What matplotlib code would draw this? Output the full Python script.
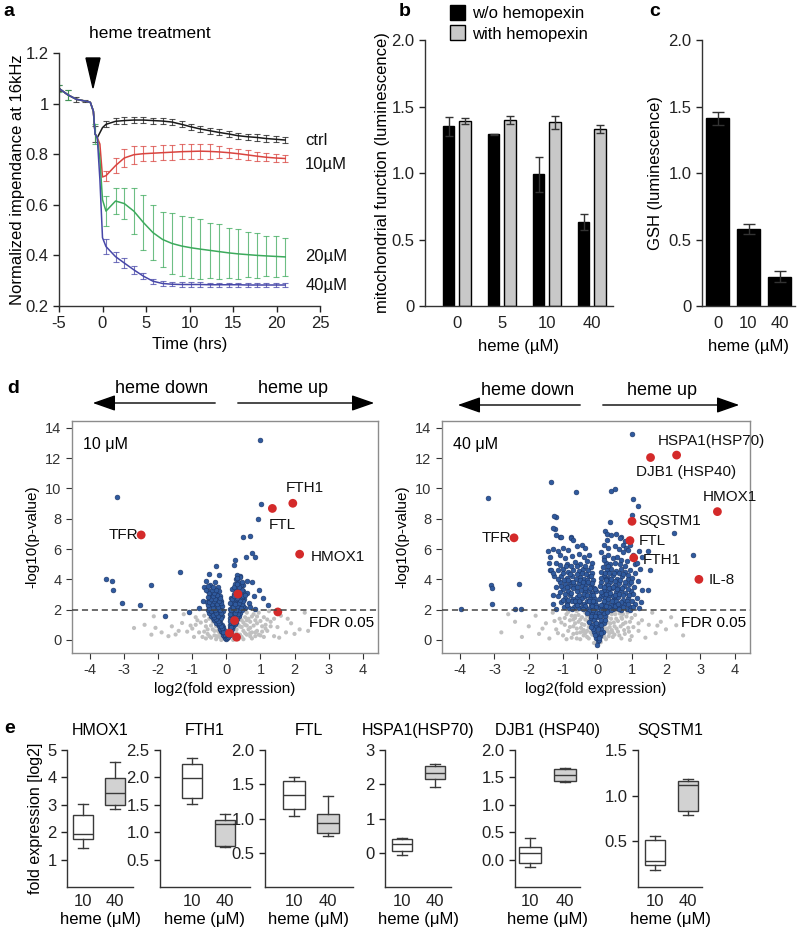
import numpy as np
import matplotlib
matplotlib.use("Agg")
import matplotlib.pyplot as plt
from matplotlib.patches import Patch, Polygon, FancyArrowPatch

plt.rcParams['font.family'] = ['Liberation Sans', 'DejaVu Sans']
plt.rcParams['axes.unicode_minus'] = False

# ---------------- data ----------------
# panel a: impedance time course
a_hours = [-5.0, -4.0, -3.0, -2.0, -1.4, -1.05, -0.85, -0.6, -0.3, 0.0, 0.4, 1.5, 2.5, 3.6,
           4.7, 5.8, 6.9, 8.0, 9.1, 10.2, 11.2, 12.3, 13.4, 14.5, 15.6, 16.7, 17.8, 18.8, 19.9, 21.0]
a_ctrl = [1.06, 1.035, 1.017, 1.01, 1.005, 0.97, 0.88, 0.865, 0.885, 0.905, 0.918, 0.93, 0.933, 0.935,
          0.935, 0.933, 0.931, 0.927, 0.918, 0.908, 0.90, 0.893, 0.886, 0.88, 0.873, 0.869, 0.866, 0.862, 0.859, 0.856]
a_10 = [1.06, 1.035, 1.017, 1.01, 1.005, 0.97, 0.88, 0.865, 0.84, 0.71, 0.715, 0.755, 0.785, 0.798,
        0.802, 0.804, 0.806, 0.808, 0.81, 0.811, 0.812, 0.811, 0.809, 0.806, 0.802, 0.797, 0.792, 0.788, 0.785, 0.783]
a_20 = [1.06, 1.035, 1.017, 1.01, 1.005, 0.97, 0.88, 0.865, 0.78, 0.62, 0.575, 0.615, 0.605, 0.575,
        0.53, 0.49, 0.463, 0.447, 0.437, 0.43, 0.425, 0.42, 0.415, 0.41, 0.406, 0.403, 0.40, 0.398, 0.396, 0.394]
a_40 = [1.06, 1.035, 1.017, 1.01, 1.005, 0.97, 0.88, 0.865, 0.70, 0.47, 0.435, 0.395, 0.37, 0.343,
        0.318, 0.298, 0.289, 0.286, 0.285, 0.285, 0.285, 0.284, 0.284, 0.284, 0.284, 0.283, 0.283, 0.283, 0.283, 0.283]
a_ctrl_err = [0.012, 0.02, 0.01, 0.005, 0, 0, 0.03, 0, 0, 0, 0.012, 0.012, 0.013, 0.012,
              0.013, 0.012, 0.012, 0.012, 0.012, 0.012, 0.012, 0.012, 0.012, 0.012, 0.012, 0.012, 0.012, 0.012, 0.012, 0.012]
a_10_err = [0, 0, 0, 0, 0, 0, 0, 0, 0, 0, 0.02, 0.03, 0.035, 0.035,
            0.03, 0.03, 0.03, 0.03, 0.03, 0.03, 0.03, 0.03, 0.025, 0.02, 0.02, 0.02, 0.018, 0.015, 0.015, 0.015]
a_20_err = [0.015, 0.02, 0, 0, 0, 0, 0.04, 0, 0, 0, 0.06, 0.05, 0.06, 0.09,
            0.11, 0.11, 0.11, 0.12, 0.12, 0.12, 0.12, 0.11, 0.11, 0.1, 0.1, 0.09, 0.09, 0.08, 0.08, 0.075]
a_40_err = [0, 0, 0, 0, 0, 0, 0, 0, 0, 0, 0.03, 0.02, 0.02, 0.015,
            0.012, 0.01, 0.008, 0.008, 0.008, 0.008, 0.008, 0.008, 0.008, 0.008, 0.008, 0.008, 0.008, 0.008, 0.008, 0.008]
a_names = ["ctrl", "10\u00b5M", "20\u00b5M", "40\u00b5M"]
a_colors = ["#1a1a1a", "#d9443f", "#3daa5c", "#4747a8"]

# panel b: mitochondrial function
b_doses = ["0", "5", "10", "40"]
b_wo = [1.35, 1.29, 0.99, 0.63]
b_wo_err = [0.07, 0.005, 0.13, 0.06]
b_with = [1.39, 1.40, 1.38, 1.33]
b_with_err = [0.02, 0.03, 0.05, 0.03]

# panel c: GSH
c_doses = ["0", "10", "40"]
c_gsh = [1.41, 0.58, 0.22]
c_gsh_err = [0.05, 0.04, 0.04]

# panel d: volcano plots (log2 fold, -log10 p)
v10_blue = [
    (0.98, 13.2), (-3.22, 9.46), (1.01, 8.97), (0.92, 7.96), (0.50, 6.78), (0.70, 6.87), (0.75, 5.77),
    (0.58, 5.5), (0.85, 5.46), (0.26, 5.25), (0.21, 4.96), (-0.29, 4.9), (-1.35, 4.46), (-3.54, 4.04),
    (-3.35, 3.86), (-3.32, 3.27), (-2.22, 3.6), (-3.07, 2.44), (-2.54, 2.29), (-1.81, 1.6), (-1.1, 1.85),
    (-0.52, 4.37), (-0.22, 4.3), (-0.66, 3.47), (1.07, 2.77), (1.22, 2.33), (0.95, 3.3), (0.75, 3.8),
    (0.6, 3.1), (0.8, 2.88), (0.65, 2.44), (0.41, 4.19), (0.55, 2.1), (0.7, 2.2), (-0.7, 2.6), (-0.8, 2.1),
    (0.85, 2.05), (0.5, 3.6), (0.62, 3.9), (-0.6, 3.9),
    (-0.02, 0.05), (-0.05, 0.15), (-0.08, 0.25), (-0.1, 0.35), (-0.04, 0.4), (-0.12, 0.5), (-0.15, 0.6),
    (-0.07, 0.65), (-0.18, 0.75), (-0.1, 0.85), (-0.22, 0.9), (-0.14, 1.0), (-0.25, 1.05), (-0.3, 1.15),
    (-0.18, 1.2), (-0.35, 1.3), (-0.22, 1.35), (-0.4, 1.45), (-0.28, 1.5), (-0.12, 1.55), (-0.45, 1.6),
    (-0.33, 1.65), (-0.2, 1.7), (-0.5, 1.75), (-0.38, 1.8), (-0.25, 1.85), (-0.1, 1.9), (-0.55, 1.95),
    (-0.42, 2.0), (-0.3, 2.05), (-0.18, 2.1), (-0.5, 2.2), (-0.35, 2.25), (-0.22, 2.3), (-0.45, 2.4),
    (-0.3, 2.45), (-0.58, 2.5), (-0.15, 2.55), (-0.4, 2.6), (-0.25, 2.7), (-0.52, 2.75), (-0.35, 2.85),
    (-0.2, 2.9), (-0.45, 3.0), (-0.3, 3.1), (-0.55, 3.2), (-0.38, 3.35), (-0.25, 3.5), (-0.48, 3.65),
    (-0.32, 3.8),
    (-0.05, 0.3), (-0.09, 0.55), (-0.13, 0.8), (-0.17, 0.95), (-0.21, 1.1), (-0.26, 1.25), (-0.3, 1.4),
    (-0.36, 1.5), (-0.16, 1.42), (-0.24, 1.58), (-0.4, 1.68), (-0.29, 1.78), (-0.15, 1.8), (-0.46, 1.88),
    (-0.34, 1.95), (-0.2, 1.98), (-0.52, 2.08), (-0.38, 2.12), (-0.25, 2.18), (-0.12, 2.22), (-0.55, 2.32),
    (-0.42, 2.35), (-0.28, 2.38), (-0.16, 2.42), (-0.5, 2.52), (-0.35, 2.55), (-0.22, 2.6), (-0.45, 2.68),
    (-0.32, 2.72), (-0.18, 2.78), (-0.55, 2.85), (-0.4, 2.9), (-0.27, 2.95), (-0.5, 3.08), (-0.36, 3.12),
    (-0.22, 3.2), (-0.43, 3.28), (-0.3, 3.32), (-0.6, 3.3), (-0.4, 3.5), (-0.55, 3.55),
    (0.03, 0.1), (0.06, 0.2), (0.1, 0.3), (0.05, 0.4), (0.13, 0.5), (0.08, 0.6), (0.17, 0.7), (0.1, 0.8),
    (0.2, 0.9), (0.12, 1.0), (0.24, 1.05), (0.15, 1.15), (0.28, 1.2), (0.18, 1.3), (0.32, 1.4), (0.1, 1.45),
    (0.22, 1.5), (0.36, 1.6), (0.14, 1.65), (0.27, 1.7), (0.4, 1.8), (0.18, 1.85), (0.31, 1.9), (0.45, 2.0),
    (0.12, 2.05), (0.24, 2.1), (0.38, 2.15), (0.5, 2.25), (0.16, 2.3), (0.3, 2.35), (0.43, 2.45), (0.2, 2.55),
    (0.35, 2.6), (0.52, 2.7), (0.15, 2.8), (0.27, 2.85), (0.42, 2.95), (0.22, 3.05), (0.35, 3.15), (0.5, 3.25),
    (0.18, 3.35), (0.3, 3.45), (0.42, 3.6), (0.25, 3.7), (0.35, 3.85), (0.28, 4.0), (0.4, 4.15), (0.3, 4.3),
    (0.04, 0.3), (0.08, 0.45), (0.11, 0.65), (0.15, 0.85), (0.19, 1.1), (0.22, 1.25), (0.26, 1.35),
    (0.3, 1.55), (0.12, 1.25), (0.2, 1.4), (0.34, 1.7), (0.25, 1.8), (0.1, 1.7), (0.38, 1.95), (0.28, 2.0),
    (0.15, 2.0), (0.42, 2.1), (0.32, 2.25), (0.2, 2.2), (0.46, 2.35), (0.36, 2.45), (0.25, 2.4), (0.12, 2.45),
    (0.48, 2.55), (0.4, 2.65), (0.28, 2.7), (0.18, 2.68), (0.45, 2.82), (0.32, 2.8), (0.22, 2.92),
    (0.38, 3.05), (0.28, 3.2), (0.45, 3.3), (0.22, 3.5), (0.36, 3.5), (0.3, 3.7), (0.45, 3.8), (0.32, 4.1),
    (0.5, 2.9), (0.55, 3.0),
]
v10_grey = [
    (-2.71, 0.79), (-2.13, 1.56), (-2.08, 0.8), (-1.49, 0.36), (-1.3, 1.12), (-1.0, 0.75), (-0.8, 0.5),
    (-0.85, 1.3), (-0.7, 0.2), (-0.6, 0.9), (-0.55, 0.4), (-0.5, 1.4), (-0.45, 0.15), (-0.4, 0.7),
    (-0.35, 0.3), (-0.3, 0.05), (-0.65, 1.6), (-0.9, 1.0), (-1.15, 0.55), (-1.6, 0.9), (-1.9, 0.5),
    (-2.4, 1.0), (-0.25, 0.6), (0.45, 0.2), (0.5, 0.6), (0.55, 1.0), (0.6, 0.35), (0.65, 1.4), (0.7, 0.8),
    (0.75, 0.1), (0.8, 1.7), (0.85, 0.5), (0.9, 1.1), (1.0, 0.3), (1.05, 0.9), (1.1, 1.5), (1.2, 0.6),
    (1.3, 1.2), (1.4, 0.25), (1.5, 0.85), (1.6, 1.6), (1.75, 0.5), (1.9, 1.1), (2.0, 0.4), (2.15, 0.7),
    (0.35, 0.05), (0.4, 0.9), (0.3, 0.45), (0.95, 1.8), (0.6, 1.8), (-0.2, 0.2), (-0.15, 0.0), (0.2, 0.0),
    (1.25, 1.9), (-1.25, 1.7), (-0.95, 0.2), (1.55, 0.15), (2.3, 1.8), (0.7, 0.45), (0.45, 1.3),
    (-0.6, 0.1), (-0.75, 1.15), (1.15, 1.0), (0.85, 0.25),
    (-0.35, 0.6), (-0.3, 0.9), (-0.28, 0.25), (-0.45, 0.95), (-0.55, 0.7), (-0.5, 0.25), (-0.65, 0.55),
    (-0.4, 1.2), (-0.6, 1.25), (0.3, 0.7), (0.35, 1.0), (0.4, 0.35), (0.45, 0.85), (0.5, 1.15), (0.55, 0.45),
    (0.6, 0.95), (0.65, 0.7), (0.7, 1.2), (0.75, 0.5), (0.8, 0.95), (0.85, 1.3), (0.9, 0.6), (0.95, 0.35),
    (1.0, 1.25), (1.05, 0.55), (1.1, 0.2), (1.15, 0.75), (1.2, 1.35), (0.55, 1.5), (0.75, 1.55), (0.4, 1.55),
    (-0.2, 0.45), (0.25, 0.3), (0.35, 0.15), (0.5, 0.05), (0.6, 1.3), (0.7, 0.25), (0.9, 1.55), (1.3, 0.9),
    (1.4, 1.4), (-1.4, 0.6), (-1.7, 0.25), (-2.2, 0.35), (1.8, 1.4), (2.4, 0.6), (-0.9, 1.5), (-1.05, 0.95),
]
v10_red = [(-2.5, 6.93), (1.35, 8.68), (1.95, 9.02), (2.15, 5.66), (0.34, 3.03), (1.51, 1.85),
           (0.24, 1.28), (0.09, 0.45), (0.3, 0.18)]
v10_labels = ["TFR", "FTL", "FTH1", "HMOX1"]

v40_blue = [
    (1.01, 13.58), (-3.19, 9.37), (-1.34, 10.4), (-0.61, 9.74), (0.41, 9.81), (0.5, 9.96), (1.04, 9.3),
    (1.19, 8.86), (1.01, 8.27), (2.23, 7.04), (2.79, 5.64), (-1.2, 8.1), (-1.24, 7.33), (-3.11, 3.6),
    (-3.06, 3.45), (-2.28, 3.67), (-3.06, 2.39), (-3.99, 2.07), (-2.41, 2.07), (-2.22, 2.02), (1.53, 4.65),
    (1.48, 3.32), (1.28, 2.5), (-1.1, 6.8), (-0.76, 6.82), (-1.44, 5.9), (-1.39, 4.6), (0.75, 6.3),
    (0.7, 6.8), (0.83, 6.08), (1.09, 5.0), (1.3, 5.46), (1.48, 5.9),
    (-1.25, 8.2), (-1.28, 7.4), (-1.2, 6.9), (-1.05, 6.8), (-0.78, 6.75), (-0.72, 6.6), (-1.3, 6.0),
    (-1.15, 5.9), (-1.0, 6.05), (-0.85, 5.95), (-0.6, 6.2), (-0.45, 6.3), (-0.37, 6.1), (-1.38, 5.5),
    (-1.1, 5.6), (-0.95, 5.4), (-0.75, 5.55), (-0.55, 5.7), (-0.4, 5.45), (-0.25, 5.6), (-1.42, 5.05),
    (-1.2, 5.1), (-0.9, 5.0), (-0.65, 5.15), (-0.5, 5.0), (-0.3, 5.2), (-0.15, 5.1),
    (-1.35, 4.6), (-1.15, 4.6), (-1.0, 4.7), (-0.85, 4.5), (-0.7, 4.65), (-0.55, 4.55), (-0.42, 4.7),
    (-0.28, 4.6), (-0.15, 4.45), (-1.25, 4.2), (-1.05, 4.25), (-0.9, 4.1), (-0.75, 4.2), (-0.62, 4.0),
    (-0.5, 4.15), (-0.38, 4.05), (-0.25, 4.2), (-0.12, 3.95), (-1.1, 3.8), (-0.95, 3.7), (-0.8, 3.85),
    (-0.68, 3.6), (-0.55, 3.75), (-0.45, 3.55), (-0.32, 3.7), (-0.2, 3.6), (-0.1, 3.45), (-1.0, 3.35),
    (-0.85, 3.25), (-0.72, 3.4), (-0.6, 3.2), (-0.48, 3.3), (-0.36, 3.15), (-0.25, 3.3), (-0.15, 3.1),
    (-0.05, 3.2), (-1.15, 2.9), (-0.95, 2.8), (-0.8, 2.95), (-0.7, 2.7), (-0.58, 2.85), (-0.45, 2.75),
    (-0.35, 2.9), (-0.22, 2.7), (-0.1, 2.8), (-1.05, 2.5), (-0.88, 2.45), (-0.75, 2.55), (-0.62, 2.4),
    (-0.5, 2.5), (-0.4, 2.35), (-0.3, 2.55), (-0.18, 2.4), (-0.08, 2.5), (-0.98, 2.15), (-0.82, 2.1),
    (-0.68, 2.2), (-0.55, 2.1), (-0.45, 2.2), (-0.32, 2.1), (-0.2, 2.15), (-0.1, 2.05), (-1.2, 2.05),
    (-1.3, 2.4), (-0.52, 3.95), (-0.82, 3.55), (-0.3, 3.95), (-0.65, 2.6), (-0.4, 3.05), (-0.2, 2.95),
    (-1.3, 3.0), (-1.2, 3.5), (-1.1, 4.95), (-1.28, 4.4), (-0.92, 4.85), (-0.78, 4.9), (-0.6, 4.85),
    (-0.35, 4.85), (-0.2, 4.8), (-1.0, 4.45), (-0.8, 4.35), (-0.6, 4.35), (-0.45, 4.4), (-0.32, 4.35),
    (-0.18, 4.25), (-1.15, 4.05), (-0.98, 3.95), (-0.85, 3.95), (-0.7, 3.85), (-0.42, 3.85), (-0.28, 3.82),
    (-0.15, 3.75), (-1.05, 3.55), (-0.9, 3.5), (-0.6, 3.5), (-0.35, 3.45), (-0.22, 3.4), (-0.08, 3.35),
    (-1.1, 3.15), (-0.95, 3.05), (-0.78, 3.1), (-0.55, 3.0), (-0.3, 3.0), (-0.12, 2.95), (-1.0, 2.65),
    (-0.85, 2.65), (-0.55, 2.6), (-0.25, 2.6), (-0.12, 2.6), (-0.9, 2.3), (-0.6, 2.28), (-0.35, 2.25),
    (-0.15, 2.25), (-0.05, 2.3), (-0.75, 2.05), (-0.42, 2.02), (-0.05, 2.15),
    (0.36, 7.77), (0.22, 7.2), (0.27, 7.0), (0.4, 6.9), (0.55, 7.0), (0.65, 6.75), (0.8, 6.5), (0.95, 6.3),
    (0.2, 6.3), (0.32, 6.1), (0.5, 6.2), (0.62, 6.0), (0.75, 5.8), (0.9, 5.95), (1.05, 5.6), (1.2, 5.9),
    (0.18, 5.5), (0.3, 5.6), (0.45, 5.4), (0.58, 5.5), (0.7, 5.3), (0.85, 5.2), (1.0, 5.4), (1.15, 5.1),
    (0.25, 5.1), (0.38, 5.0), (0.52, 5.05), (0.15, 4.8), (0.28, 4.6), (0.4, 4.7), (0.55, 4.55),
    (0.68, 4.7), (0.82, 4.5), (0.95, 4.65), (1.1, 4.4), (1.25, 4.7), (0.2, 4.25), (0.32, 4.1), (0.45, 4.3),
    (0.58, 4.05), (0.72, 4.2), (0.88, 4.0), (1.02, 4.1), (1.18, 3.9), (0.12, 3.8), (0.25, 3.65),
    (0.38, 3.85), (0.5, 3.6), (0.63, 3.75), (0.78, 3.55), (0.92, 3.7), (1.08, 3.5), (0.18, 3.3), (0.3, 3.2),
    (0.42, 3.4), (0.55, 3.15), (0.68, 3.3), (0.82, 3.1), (0.98, 3.25), (1.3, 3.3), (0.1, 2.9), (0.22, 2.75),
    (0.35, 2.95), (0.48, 2.7), (0.6, 2.85), (0.74, 2.65), (0.88, 2.8), (1.0, 2.6), (1.15, 2.75), (0.15, 2.4),
    (0.28, 2.5), (0.4, 2.3), (0.52, 2.45), (0.65, 2.25), (0.8, 2.4), (0.95, 2.2), (1.1, 2.35), (0.08, 2.1),
    (0.2, 2.05), (0.32, 2.15), (0.45, 2.05), (0.58, 2.1), (0.7, 2.0), (0.85, 2.05), (1.2, 2.1),
    (0.3, 3.6), (0.45, 2.9), (0.25, 4.0), (0.6, 3.45), (0.15, 3.05), (0.35, 2.2),
    (0.1, 4.5), (0.22, 4.45), (0.35, 4.45), (0.48, 4.4), (0.62, 4.4), (0.76, 4.35), (0.9, 4.3), (0.1, 4.1),
    (0.26, 3.95), (0.4, 4.0), (0.52, 3.9), (0.66, 3.95), (0.82, 3.85), (0.98, 3.85), (0.08, 3.55), (0.2, 3.5),
    (0.35, 3.45), (0.46, 3.5), (0.58, 3.35), (0.72, 3.45), (0.88, 3.35), (1.05, 3.05), (0.1, 3.15),
    (0.25, 3.05), (0.38, 3.1), (0.5, 2.95), (0.62, 3.05), (0.75, 2.95), (0.92, 2.95), (0.05, 2.7),
    (0.18, 2.6), (0.3, 2.7), (0.42, 2.6), (0.55, 2.6), (0.68, 2.5), (0.85, 2.55), (0.1, 2.3), (0.25, 2.25),
    (0.5, 2.25), (0.6, 2.35), (0.75, 2.2), (0.9, 2.4), (1.05, 2.2), (0.15, 2.0), (0.4, 2.0), (0.62, 2.05),
    (0.95, 2.0), (0.18, 5.25), (0.3, 4.85), (0.65, 5.0), (0.8, 4.85), (0.12, 5.8), (0.28, 6.6),
    (-0.25, 1.9), (-0.15, 1.7), (-0.05, 1.85), (0.05, 1.75), (0.15, 1.9), (0.22, 1.6), (-0.2, 1.45),
    (-0.1, 1.3), (0.0, 1.5), (0.1, 1.35), (0.18, 1.15), (-0.15, 1.0), (-0.05, 0.85), (0.05, 1.05),
    (0.12, 0.7), (-0.1, 0.55), (0.0, 0.4), (0.08, 0.25), (-0.05, 0.1), (0.02, -0.1), (-0.02, -0.3),
    (0.06, 0.0), (-0.12, 0.75), (0.15, 0.5), (-0.3, 1.8), (-0.2, 1.55), (-0.08, 1.6), (0.08, 1.55),
    (0.2, 1.75), (0.28, 1.85), (-0.25, 1.2), (-0.05, 1.15), (0.12, 1.0), (0.22, 1.3), (-0.18, 0.85),
    (0.02, 0.7), (0.1, 0.45), (-0.08, 0.3), (0.05, 0.15), (-0.12, 1.95), (0.1, 1.95),
]
v40_grey = [
    (-2.8, 0.5), (-2.4, 1.2), (-2.2, 0.2), (-2.0, 0.9), (-1.8, 1.6), (-1.7, 0.4), (-1.5, 1.1), (-1.4, 0.1),
    (-1.3, 1.8), (-1.2, 0.7), (-1.1, 1.4), (-1.0, 0.3), (-0.95, 1.0), (-0.9, 1.7), (-0.85, 0.6), (-0.8, 1.3),
    (-0.75, 0.15), (-0.7, 0.9), (-0.65, 1.6), (-0.6, 0.45), (-0.55, 1.2), (-0.5, 0.05), (-0.48, 0.8),
    (-0.45, 1.5), (-0.4, 0.3), (-0.38, 1.0), (-0.35, 1.8), (-0.3, 0.6), (-0.28, 1.25), (-0.25, 0.1),
    (-0.2, 0.85), (-0.18, 1.55), (-0.15, 0.35), (-0.12, 1.1), (-0.1, -0.2), (0.1, -0.15), (0.12, 0.95),
    (0.15, 1.6), (0.18, 0.3), (0.2, 1.25), (0.25, 0.05), (0.28, 0.75), (0.3, 1.5), (0.35, 0.45), (0.38, 1.1),
    (0.4, 1.85), (0.45, 0.2), (0.5, 0.9), (0.55, 1.4), (0.6, 0.55), (0.65, 1.75), (0.7, 0.1), (0.75, 1.05),
    (0.8, 0.4), (0.85, 1.55), (0.9, 0.8), (0.95, 1.2), (1.0, 0.25), (1.1, 1.65), (1.2, 0.6), (1.3, 1.3),
    (1.4, 0.15), (1.5, 1.0), (1.6, 1.8), (1.7, 0.45), (1.85, 1.2), (2.0, 0.7), (2.15, 1.5), (2.3, 0.97),
    (2.5, 0.3), (-2.6, 1.7), (-0.6, 1.9), (0.55, 1.95), (-1.6, 0.75), (1.75, 0.95), (-0.7, 1.35),
    (-0.42, 0.55), (0.42, 0.65), (0.7, 1.5), (-0.9, 0.05), (0.95, 0.0), (-0.3, 1.6), (0.3, 1.95),
    (-0.95, 1.45), (-0.85, 1.85), (-0.8, 0.85), (-0.7, 0.4), (-0.65, 1.1), (-0.6, 0.75), (-0.55, 1.65),
    (-0.5, 0.5), (-0.45, 1.05), (-0.4, 0.65), (-0.35, 1.35), (-0.3, 0.2), (-0.25, 0.85), (-0.22, 1.45),
    (-0.2, 0.5), (-0.15, 1.2), (-0.12, 0.65), (0.12, 0.55), (0.15, 1.15), (0.18, 0.85), (0.22, 1.45),
    (0.25, 0.6), (0.3, 1.15), (0.33, 0.25), (0.36, 0.85), (0.4, 1.4), (0.44, 0.5), (0.48, 1.15), (0.52, 1.7),
    (0.56, 0.75), (0.6, 1.25), (0.64, 0.3), (0.68, 0.9), (0.72, 1.4), (0.78, 0.65), (0.82, 1.15), (0.88, 1.8),
    (0.92, 0.55), (1.0, 1.45), (1.05, 0.85), (-1.05, 1.15), (-1.15, 0.45), (-0.75, 1.6), (-0.5, 1.35),
    (-0.6, 0.1), (0.5, 0.35), (0.3, 0.6), (0.2, 0.2), (-0.35, 0.45), (-0.65, 1.45), (0.75, 1.7), (1.2, 1.1),
    (-1.25, 1.25), (0.42, 1.7),
]
v40_red = [(-2.43, 6.74), (1.55, 12.04), (2.31, 12.2), (3.5, 8.47), (1.01, 7.83), (0.95, 6.56),
           (1.06, 5.42), (2.96, 4.0)]
v40_labels = ["TFR", "DJB1 (HSP40)", "HSPA1(HSP70)", "HMOX1", "SQSTM1", "FTL", "FTH1", "IL-8"]

# panel e: box plots (10 uM and 40 uM)
e_genes = ["HMOX1", "FTH1", "FTL", "HSPA1(HSP70)", "DJB1 (HSP40)", "SQSTM1"]
e_lo_10 = [1.43, 1.51, 1.04, -0.08, -0.14, 0.19]
e_q1_10 = [1.76, 1.63, 1.14, 0.04, -0.06, 0.24]
e_med_10 = [1.94, 1.98, 1.35, 0.27, 0.12, 0.28]
e_q3_10 = [2.61, 2.24, 1.55, 0.39, 0.23, 0.52]
e_hi_10 = [3.04, 2.36, 1.61, 0.42, 0.39, 0.555]
e_lo_40 = [2.86, 0.73, 0.74, 1.93, 1.42, 0.79]
e_q1_40 = [2.98, 0.75, 0.79, 2.14, 1.44, 0.83]
e_med_40 = [3.43, 1.15, 0.94, 2.33, 1.55, 1.12]
e_q3_40 = [3.96, 1.23, 1.06, 2.53, 1.65, 1.16]
e_hi_40 = [4.57, 1.34, 1.33, 2.6, 1.68, 1.18]
e_yticks = [[1, 2, 3, 4, 5], [0.5, 1.0, 1.5, 2.0, 2.5], [0.5, 1.0, 1.5, 2.0], [0, 1, 2, 3],
            [0.0, 0.5, 1.0, 1.5, 2.0], [0.5, 1.0, 1.5]]
e_yfmt = ["{:.0f}", "{:.1f}", "{:.1f}", "{:.0f}", "{:.1f}", "{:.1f}"]
e_ylim = [(0, 5), (0, 2.5), (0, 2.0), (-1, 3), (-0.5, 2.0), (0, 1.5)]
e_doses = ["10", "40"]

# ---------------- layout helpers ----------------
W, H = 798, 930
fig = plt.figure(figsize=(W / 100, H / 100), dpi=100)


def fx(x):
    return x / W


def fy(y):
    return 1 - y / H


def add_ax(left, top, right, bottom):
    return fig.add_axes([left / W, 1 - bottom / H, (right - left) / W, (bottom - top) / H])


def open_style(ax, size=12):
    ax.spines['top'].set_visible(False)
    ax.spines['right'].set_visible(False)
    for s in ('left', 'bottom'):
        ax.spines[s].set_linewidth(1.0)
        ax.spines[s].set_color('#333333')
    ax.tick_params(direction='out', length=4, width=1.0, labelsize=size, colors='#222222')


# ---------------- panel a ----------------
ax = add_ax(59, 53, 320, 306)
open_style(ax)
hours = np.array(a_hours)
for vals, errs, col in zip([a_ctrl, a_10, a_20, a_40], [a_ctrl_err, a_10_err, a_20_err, a_40_err], a_colors):
    vals = np.array(vals)
    errs = np.array(errs)
    m = errs > 0
    ax.errorbar(hours[m], vals[m], yerr=errs[m], fmt='none', ecolor=col, elinewidth=0.8,
                capsize=2, capthick=0.8, alpha=0.75)
    ax.plot(hours, vals, color=col, lw=1.1)
for name, vals, col in zip(a_names, [a_ctrl, a_10, a_20, a_40], a_colors):
    ax.text(23.3, vals[-1] - (0.025 if name.startswith("10") else 0), name, fontsize=12,
            va='center', ha='left', color='#111111')
ax.set_xlim(-5, 25)
ax.set_ylim(0.2, 1.2)
ax.set_xticks([-5, 0, 5, 10, 15, 20, 25])
ax.set_yticks([0.2, 0.4, 0.6, 0.8, 1.0, 1.2])
ax.set_yticklabels(["0.2", "0.4", "0.6", "0.8", "1", "1.2"])
ax.set_xlabel("Time (hrs)", fontsize=12, labelpad=4)
ax.set_ylabel("Normalized impendance at 16kHz", fontsize=12, labelpad=0)
fig.text(fx(150), fy(33), "heme treatment", fontsize=12.5, ha='center', va='center')
fig.add_artist(Polygon([(fx(86), fy(58)), (fx(100), fy(58)), (fx(93), fy(88))], closed=True,
                       transform=fig.transFigure, color='black'))

# ---------------- panel b ----------------
ax = add_ax(425, 40, 613, 306)
open_style(ax)
xb = np.arange(len(b_doses))
ax.bar(xb - 0.18, b_wo, width=0.25, color='black', edgecolor='black', lw=1,
       yerr=b_wo_err, error_kw=dict(ecolor='#333333', elinewidth=1, capsize=3, capthick=1))
ax.bar(xb + 0.18, b_with, width=0.25, color='#c8c8c8', edgecolor='black', lw=1,
       yerr=b_with_err, error_kw=dict(ecolor='#333333', elinewidth=1, capsize=3, capthick=1))
ax.set_xlim(-0.71, 3.47)
ax.set_ylim(0, 2.0)
ax.set_xticks(xb)
ax.set_xticklabels(b_doses)
ax.tick_params(axis='x', length=0, pad=7)
ax.set_yticks([0, 0.5, 1.0, 1.5, 2.0])
ax.set_yticklabels(["0", "0.5", "1.0", "1.5", "2.0"])
ax.set_xlabel("heme (\u00b5M)", fontsize=12, labelpad=6)
ax.set_ylabel("mitochondrial function (luminescence)", fontsize=12, labelpad=1)
ax.legend(handles=[Patch(fc='black', ec='black'), Patch(fc='#c8c8c8', ec='black')],
          labels=["w/o hemopexin", "with hemopexin"], loc='upper left',
          bbox_to_anchor=(fx(450), fy(5)), bbox_transform=fig.transFigure, frameon=False,
          handlelength=0.9, handleheight=1.0, handletextpad=0.4, labelspacing=0.25,
          borderaxespad=0, borderpad=0, fontsize=12)

# ---------------- panel c ----------------
ax = add_ax(702, 40, 795, 306)
open_style(ax)
xc = np.arange(len(c_doses))
ax.bar(xc, c_gsh, width=0.74, color='black', edgecolor='black',
       yerr=c_gsh_err, error_kw=dict(ecolor='#333333', elinewidth=1, capsize=4, capthick=1))
ax.set_xlim(-0.5, 2.5)
ax.set_ylim(0, 2.0)
ax.set_xticks(xc)
ax.set_xticklabels(c_doses)
ax.tick_params(axis='x', length=0, pad=7)
ax.set_yticks([0, 0.5, 1.0, 1.5, 2.0])
ax.set_yticklabels(["0", "0.5", "1.0", "1.5", "2.0"])
ax.set_xlabel("heme (\u00b5M)", fontsize=12, labelpad=6)
ax.set_ylabel("GSH (luminescence)", fontsize=12, labelpad=4)


# ---------------- panel d ----------------
def volcano(ax, blue, grey, red, labels, label_pos, dose_text):
    g = np.array(grey)
    b = np.array(blue)
    r = np.array(red)
    ax.scatter(g[:, 0], g[:, 1], s=9, color='#c0c0c0', edgecolors='none', zorder=2)
    ax.scatter(b[:, 0], b[:, 1], s=12, color='#2f5a9e', edgecolors='#1c3566', linewidths=0.4, zorder=3)
    ax.scatter(r[:, 0], r[:, 1], s=40, color='#d42a2a', edgecolors='none', zorder=4)
    ax.axhline(2, color='#444444', lw=1.1, ls=(0, (4, 2.5)), zorder=5)
    for txt, (tx, ty, ha) in zip(labels, label_pos):
        ax.text(tx, ty, txt, fontsize=11, ha=ha, va='center', color='#111111', zorder=6)
    ax.text(-4.22, 12.9, dose_text, fontsize=11.5, ha='left', va='center')
    ax.text(4.35, 1.1, "FDR 0.05", fontsize=11, ha='right', va='center')
    ax.set_xlim(-4.53, 4.45)
    ax.set_ylim(-0.86, 14.45)
    ax.set_xticks(np.arange(-4, 5))
    ax.set_yticks(np.arange(0, 15, 2))
    for s in ax.spines.values():
        s.set_color('#8c8c8c')
        s.set_linewidth(1.0)
    ax.tick_params(direction='out', length=4, width=0.8, labelsize=10.5, colors='#333333')
    ax.set_xlabel("log2(fold expression)", fontsize=11, labelpad=3)
    ax.set_ylabel("-log10(p-value)", fontsize=11, labelpad=4)


ax = add_ax(72, 421, 378, 653)
volcano(ax, v10_blue, v10_grey, v10_red, v10_labels,
        [(-2.6, 6.93, 'right'), (1.24, 7.6, 'left'), (1.73, 10.0, 'left'), (2.48, 5.46, 'left')],
        "10 \u03bcM")
ax = add_ax(442, 421, 750, 653)
volcano(ax, v40_blue, v40_grey, v40_red, v40_labels,
        [(-2.52, 6.74, 'right'), (1.12, 11.06, 'left'), (1.77, 13.1, 'left'), (3.08, 9.46, 'left'),
         (1.2, 7.83, 'left'), (1.21, 6.5, 'left'), (1.33, 5.3, 'left'), (3.23, 3.95, 'left')],
        "40 \u03bcM")

# direction arrows above the volcano plots
for (l_tip, l_tail, r_tail, r_tip, y, tdown, tup) in [(90, 218, 235, 377, 403, 162, 293),
                                                     (455, 583, 600, 742, 405, 528, 662)]:
    for p0, p1 in [(l_tail, l_tip), (r_tail, r_tip)]:
        fig.add_artist(FancyArrowPatch((fx(p0), fy(y)), (fx(p1), fy(y)), transform=fig.transFigure,
                                       arrowstyle='-|>,head_length=1.0,head_width=0.35',
                                       mutation_scale=14, color='black', lw=1.0))
    fig.text(fx(tdown), fy(y - 15), "heme down", fontsize=13, ha='center', va='center')
    fig.text(fx(tup), fy(y - 15), "heme up", fontsize=13, ha='center', va='center')

# ---------------- panel e ----------------
e_axes_px = [(67, 133, 83, 115), (160, 250, 192, 225), (265, 353, 294, 328),
             (385, 451, 402, 435), (515, 580, 530, 565), (638, 702, 655, 688)]
for i, gene in enumerate(e_genes):
    left, right, c1, c2 = e_axes_px[i]
    d = c2 - c1
    ax = add_ax(left, 750, right, 887)
    open_style(ax, size=12)
    stats = [dict(whislo=e_lo_10[i], q1=e_q1_10[i], med=e_med_10[i], q3=e_q3_10[i], whishi=e_hi_10[i], fliers=[]),
             dict(whislo=e_lo_40[i], q1=e_q1_40[i], med=e_med_40[i], q3=e_q3_40[i], whishi=e_hi_40[i], fliers=[])]
    bp = ax.bxp(stats, positions=[1, 2], widths=0.62, patch_artist=True, showfliers=False,
                boxprops=dict(edgecolor='#3a3a3a', linewidth=1.0),
                medianprops=dict(color='#3a3a3a', linewidth=1.0),
                whiskerprops=dict(color='#3a3a3a', linewidth=1.0),
                capprops=dict(color='#3a3a3a', linewidth=1.0), capwidths=0.3)
    bp['boxes'][0].set_facecolor('white')
    bp['boxes'][1].set_facecolor('#d2d2d2')
    ax.set_xlim(1 - (c1 - left) / d, 2 + (right - c2) / d)
    ax.set_ylim(*e_ylim[i])
    ax.set_yticks(e_yticks[i])
    ax.set_yticklabels([e_yfmt[i].format(v) for v in e_yticks[i]])
    ax.set_xticks([1, 2])
    ax.set_xticklabels(e_doses)
    ax.tick_params(axis='x', length=0, pad=5)
    ax.set_xlabel("heme (\u03bcM)", fontsize=12, labelpad=2)
    ax.set_title(gene, fontsize=11.5, pad=11)
    if i == 0:
        ax.set_ylabel("fold expression [log2]", fontsize=11.5, labelpad=3)

# ---------------- panel letters ----------------
for letter, x, y in [("a", 9, 11), ("b", 405, 11), ("c", 655, 11), ("d", 13, 388), ("e", 10, 728)]:
    fig.text(fx(x), fy(y), letter, fontsize=14, fontweight='bold', ha='center', va='center')

fig.savefig("out.png", dpi=100)
